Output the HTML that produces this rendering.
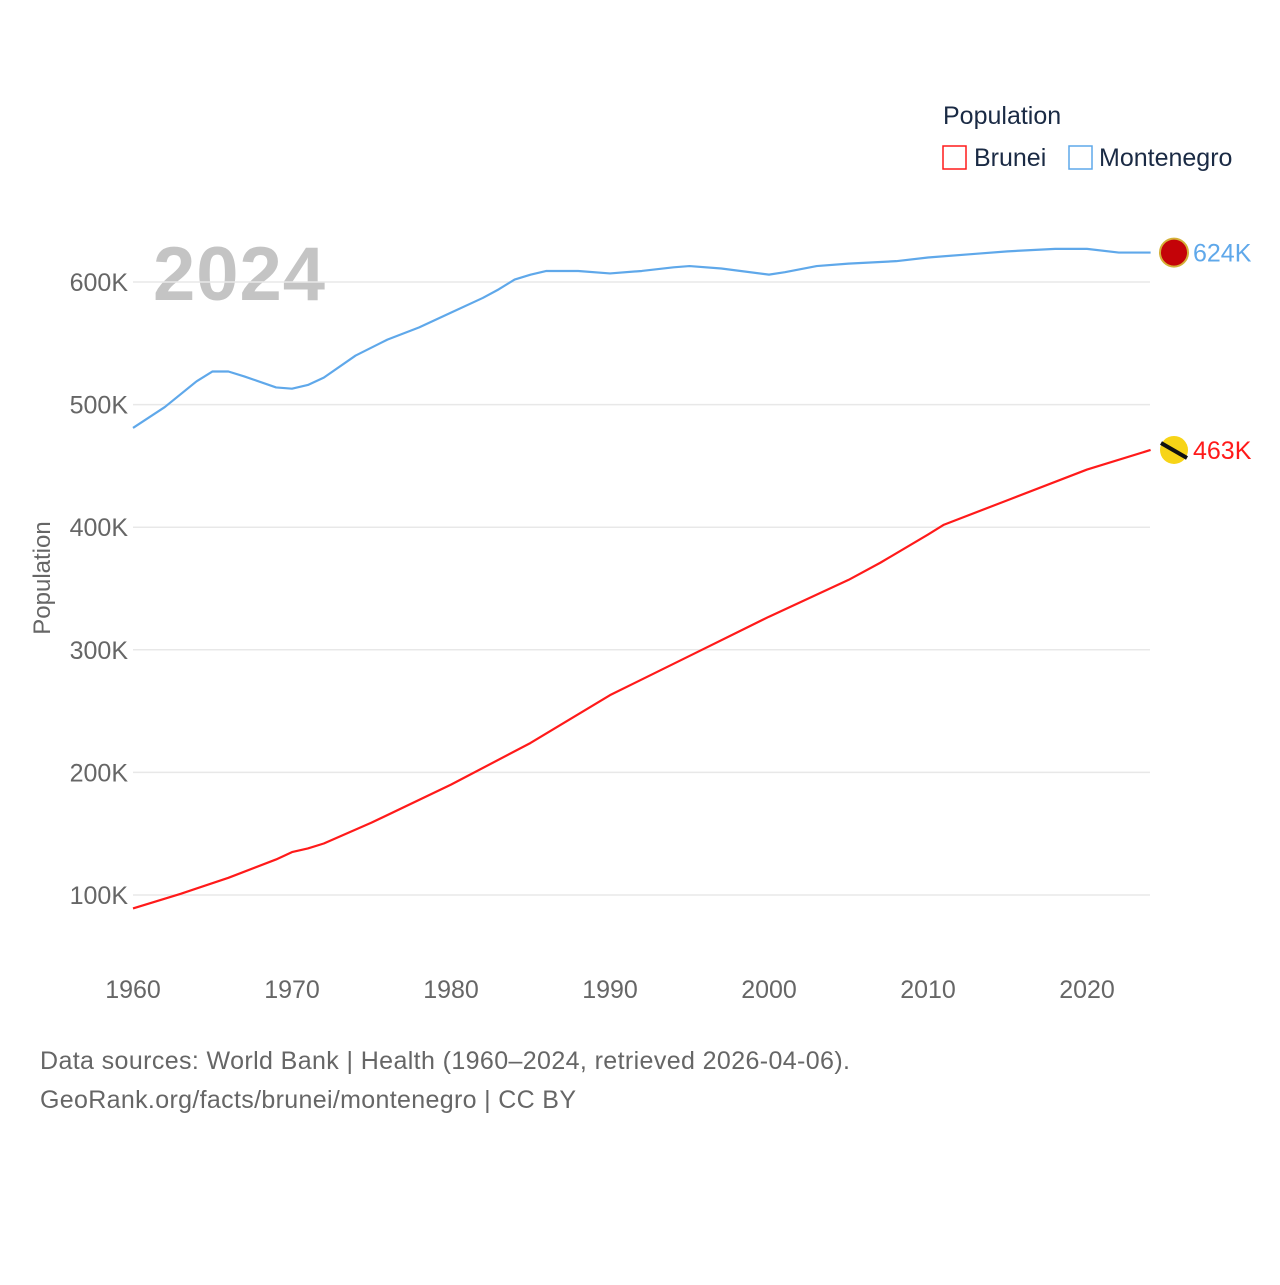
<!DOCTYPE html>
<html><head><meta charset="utf-8">
<style>
body{margin:0;background:#fff;width:1280px;height:1280px;overflow:hidden;font-family:"Liberation Sans",sans-serif}
svg text{font-family:"Liberation Sans",sans-serif}
</style></head>
<body>
<svg id="chart" width="1280" height="1280">
<text x="943" y="124" font-size="25" fill="#1a2a44">Population</text>
<rect x="943" y="146" width="23" height="23" fill="none" stroke="#ff1a1a" stroke-width="1.5"/>
<text x="974" y="166" font-size="25" fill="#1a2a44">Brunei</text>
<rect x="1069" y="146" width="23" height="23" fill="none" stroke="#5fa8ea" stroke-width="1.5"/>
<text x="1099" y="166" font-size="25" fill="#1a2a44">Montenegro</text>
<text x="153" y="300" font-size="76" font-weight="bold" fill="#c4c4c4" textLength="172">2024</text>
<text x="50" y="578" font-size="24" fill="#666" transform="rotate(-90 50 578)" text-anchor="middle">Population</text>
<g id="grid"></g><g id="lines"></g>
<text x="40" y="1069" font-size="25" fill="#666" textLength="810">Data sources: World Bank | Health (1960–2024, retrieved 2026-04-06).</text>
<text x="40" y="1108" font-size="25" fill="#666" textLength="536">GeoRank.org/facts/brunei/montenegro | CC BY</text>
</svg>
<script>
const yTicks=[100,200,300,400,500,600];
const xTicks=[1960,1970,1980,1990,2000,2010,2020];
const mneYears=[1960,1962,1964,1965,1966,1967,1969,1970,1971,1972,1974,1976,1978,1980,1982,1983,1984,1985,1986,1988,1990,1992,1994,1995,1997,2000,2001,2003,2005,2008,2010,2013,2015,2018,2020,2022,2024];
const mneValues=[481,498,519,527,527,523,514,513,516,522,540,553,563,575,587,594,602,606,609,609,607,609,612,613,611,606,608,613,615,617,620,623,625,627,627,624,624];
const bruYears=[1960,1963,1966,1969,1970,1971,1972,1975,1980,1985,1990,1995,2000,2005,2007,2010,2011,2015,2020,2024];
const bruValues=[89,101,114,129,135,138,142,159,190,224,263,295,327,357,371,394,402,422,447,463];
const X=y=>133+(y-1960)*15.9, Y=v=>282+(600-v)*1.226;
const NS="http://www.w3.org/2000/svg";
const g=document.getElementById('grid'),L=document.getElementById('lines');
function mk(p,t,a){const e=document.createElementNS(NS,t);for(const k in a)e.setAttribute(k,a[k]);p.appendChild(e);return e;}
yTicks.forEach(v=>{
 const l=mk(g,'line',{x1:133,x2:1150,y1:Y(v),y2:Y(v),stroke:'#e8e8e8','stroke-width':1.5});
 
 
 const t=mk(g,'text',{x:128,y:Y(v)+9,'text-anchor':'end','font-size':25,fill:'#666'});t.textContent=v+'K';
 
 
});
xTicks.forEach(y=>{
 const t=mk(g,'text',{x:X(y),y:998,'text-anchor':'middle','font-size':25,fill:'#666'});t.textContent=y;
 
 
});
function series(yrs,vals,col,name,lab){
 const p=mk(L,'polyline',{points:yrs.map((y,i)=>X(y)+','+Y(vals[i])).join(' '),fill:'none',stroke:col,'stroke-width':2.2,'stroke-linejoin':'round'});
 
 
 const lv=vals[vals.length-1],cy=Y(lv);
 const c=mk(L,'circle',{cx:1174,cy:cy,r:14,fill:name==='brunei'?'#f7d417':'#c40308',stroke:name==='brunei'?'none':'#d4af37','stroke-width':2});
 
 
 if(name==='brunei'){const s=mk(L,'line',{x1:1161,y1:cy-7,x2:1187,y2:cy+8,stroke:'#111','stroke-width':4});}
 const t=mk(L,'text',{x:1193,y:cy+9,'font-size':25,fill:col});t.textContent=lab;
 
 
}
series(mneYears,mneValues,'#5fa8ea','montenegro','624K');
series(bruYears,bruValues,'#ff1a1a','brunei','463K');
</script>
</body></html>
